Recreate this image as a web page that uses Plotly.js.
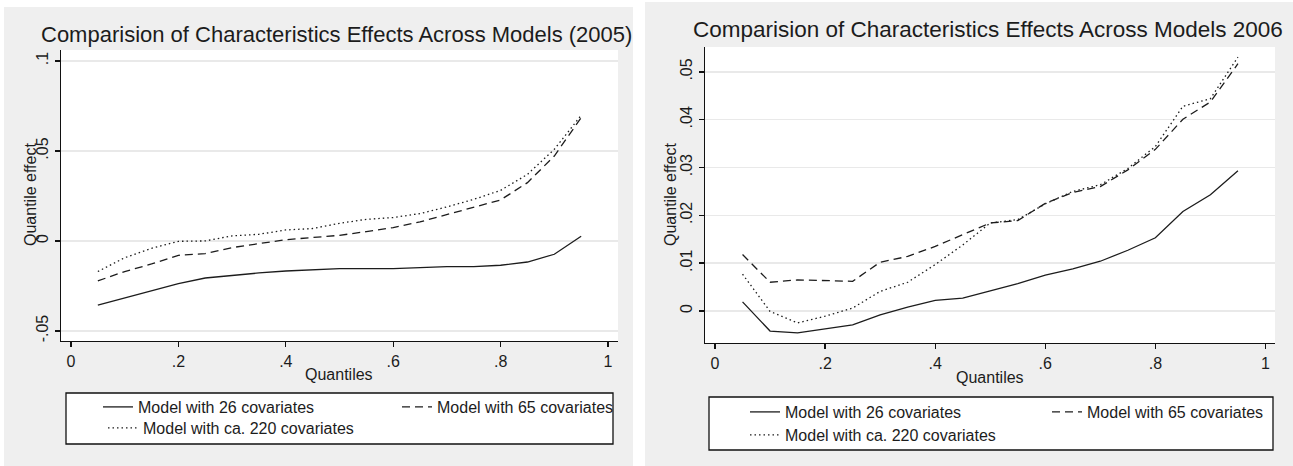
<!DOCTYPE html>
<html>
<head>
<meta charset="utf-8">
<script src="https://cdn.plot.ly/plotly-3.0.1.min.js"></script>
<style>
  html, body { margin: 0; padding: 0; background: #ffffff; }
  #chart { width: 1293px; height: 466px; }
</style>
</head>
<body>
<div id="chart"></div>
<script>
// Quantile grid shared by both years
const quantiles = [0.05, 0.10, 0.15, 0.20, 0.25, 0.30, 0.35, 0.40, 0.45, 0.50,
                   0.55, 0.60, 0.65, 0.70, 0.75, 0.80, 0.85, 0.90, 0.95];

// 2005 quantile effects
const effects2005_cov26 = [-0.0356, -0.0317, -0.0278, -0.0237, -0.0206, -0.0190, -0.0178, -0.0167, -0.0159, -0.0154,
                           -0.0154, -0.0154, -0.0148, -0.0143, -0.0143, -0.0135, -0.0117, -0.0074, 0.0026];
const effects2005_cov65 = [-0.0222, -0.0170, -0.0128, -0.0080, -0.0070, -0.0037, -0.0015, 0.0007, 0.0019, 0.0031,
                           0.0052, 0.0074, 0.0106, 0.0148, 0.0189, 0.0228, 0.0324, 0.0472, 0.0685];
const effects2005_cov220 = [-0.0170, -0.0093, -0.0041, -0.0002, 0.0000, 0.0028, 0.0037, 0.0061, 0.0069, 0.0098,
                            0.0120, 0.0130, 0.0152, 0.0189, 0.0231, 0.0281, 0.0370, 0.0509, 0.0698];

// 2006 quantile effects
const effects2006_cov26 = [0.0019, -0.0042, -0.0046, -0.0038, -0.0029, -0.0008, 0.0008, 0.0022, 0.0027, 0.0042,
                           0.0057, 0.0075, 0.0088, 0.0104, 0.0127, 0.0153, 0.0208, 0.0243, 0.0293];
const effects2006_cov65 = [0.0118, 0.0060, 0.0065, 0.0063, 0.0062, 0.0102, 0.0114, 0.0135, 0.0159, 0.0184,
                           0.0189, 0.0225, 0.0248, 0.0260, 0.0295, 0.0338, 0.0401, 0.0437, 0.0517];
const effects2006_cov220 = [0.0077, -0.0001, -0.0025, -0.0011, 0.0006, 0.0041, 0.0060, 0.0097, 0.0138, 0.0184,
                            0.0191, 0.0224, 0.0250, 0.0264, 0.0298, 0.0344, 0.0428, 0.0444, 0.0531];

const seriesNames = ['Model with 26 covariates', 'Model with 65 covariates', 'Model with ca. 220 covariates'];

const xTickVals = [0, 0.2, 0.4, 0.6, 0.8, 1];
const xTickText = ['0', '.2', '.4', '.6', '.8', '1'];
const yTickVals2005 = [-0.05, 0, 0.05, 0.1];
const yTickText2005 = ['-.05', '0', '.05', '.1'];
const yTickVals2006 = [0, 0.01, 0.02, 0.03, 0.04, 0.05];
const yTickText2006 = ['0', '.01', '.02', '.03', '.04', '.05'];

const titles = ['Comparision of Characteristics Effects Across Models (2005)',
                'Comparision of Characteristics Effects Across Models 2006'];

// ---- layout helpers (pixel -> paper) ----
const W = 1293, H = 466;
const px = v => v / W;
const py = v => (H - v) / H;

const FONT = 'Liberation Sans, Arial, Helvetica, sans-serif';
const INK = '#1c1c1c';
const lineStyles = [
  { color: INK, width: 1.3, dash: 'solid' },
  { color: INK, width: 1.3, dash: '8px,5px' },
  { color: INK, width: 1.3, dash: '1.5px,3px' }
];

const panels = [
  { xa: 'x', ya: 'y', data: [effects2005_cov26, effects2005_cov65, effects2005_cov220], legends: ['legend', 'legend2', 'legend3'] },
  { xa: 'x2', ya: 'y2', data: [effects2006_cov26, effects2006_cov65, effects2006_cov220], legends: ['legend4', 'legend5', 'legend6'] }
];

const traces = [];
panels.forEach(p => {
  p.data.forEach((vals, i) => {
    traces.push({
      type: 'scatter', mode: 'lines',
      x: quantiles, y: vals,
      xaxis: p.xa, yaxis: p.ya,
      name: seriesNames[i],
      legend: p.legends[i],
      showlegend: true,
      line: lineStyles[i],
      hoverinfo: 'skip'
    });
  });
});

const axisCommon = {
  showline: true, linecolor: '#111', linewidth: 1.4,
  ticks: 'outside', ticklen: 5, tickwidth: 1.3, tickcolor: '#111',
  tickfont: { family: FONT, size: 16, color: INK },
  zeroline: false, fixedrange: true
};

function legendAt(textLeft, centerY) {
  return {
    x: px(textLeft - 40), y: py(centerY), xref: 'paper', yref: 'paper',
    xanchor: 'left', yanchor: 'middle',
    bgcolor: 'rgba(0,0,0,0)', borderwidth: 0,
    font: { family: FONT, size: 16, color: INK },
    itemclick: false, itemdoubleclick: false, visible: true
  };
}

const layout = {
  width: W, height: H,
  margin: { l: 0, r: 0, t: 0, b: 0, pad: 0 },
  paper_bgcolor: '#efefef',
  plot_bgcolor: '#ffffff',
  showlegend: true,
  font: { family: FONT, size: 16, color: INK },
  xaxis: Object.assign({}, axisCommon, {
    domain: [px(61), px(618)], anchor: 'y',
    range: [-0.0186, 1.0186], tickvals: xTickVals, ticktext: xTickText, showgrid: false
  }),
  yaxis: Object.assign({}, axisCommon, {
    domain: [py(341), py(50)], anchor: 'x',
    range: [-0.0556, 0.1061], tickvals: yTickVals2005, ticktext: yTickText2005,
    tickangle: -90, showgrid: true, gridcolor: '#e9e9e9', gridwidth: 1.5
  }),
  xaxis2: Object.assign({}, axisCommon, {
    domain: [px(705), px(1275)], anchor: 'y2',
    range: [-0.0182, 1.0173], tickvals: xTickVals, ticktext: xTickText, showgrid: false
  }),
  yaxis2: Object.assign({}, axisCommon, {
    domain: [py(343), py(47)], anchor: 'x2',
    range: [-0.0067, 0.0552], tickvals: yTickVals2006, ticktext: yTickText2006,
    tickangle: -90, showgrid: true, gridcolor: '#e9e9e9', gridwidth: 1.5
  }),
  legend: legendAt(138, 407),
  legend2: legendAt(437, 407),
  legend3: legendAt(143, 428),
  legend4: legendAt(785, 412),
  legend5: legendAt(1087, 412),
  legend6: legendAt(785, 435),
  shapes: [
    // white page strips around the two grey graph regions
    { type: 'rect', xref: 'paper', yref: 'paper', x0: 0, x1: px(4), y0: 0, y1: 1, fillcolor: '#ffffff', line: { width: 0 }, layer: 'below' },
    { type: 'rect', xref: 'paper', yref: 'paper', x0: 0, x1: px(645), y0: py(7), y1: 1, fillcolor: '#ffffff', line: { width: 0 }, layer: 'below' },
    { type: 'rect', xref: 'paper', yref: 'paper', x0: px(633), x1: px(645), y0: 0, y1: 1, fillcolor: '#ffffff', line: { width: 0 }, layer: 'below' },
    { type: 'rect', xref: 'paper', yref: 'paper', x0: px(645), x1: 1, y0: py(2), y1: 1, fillcolor: '#ffffff', line: { width: 0 }, layer: 'below' },
    // legend frames
    { type: 'rect', xref: 'paper', yref: 'paper', x0: px(66), x1: px(613), y0: py(444), y1: py(393), fillcolor: '#ffffff', line: { color: '#111', width: 1.3 }, layer: 'below' },
    { type: 'rect', xref: 'paper', yref: 'paper', x0: px(709), x1: px(1273), y0: py(450), y1: py(397), fillcolor: '#ffffff', line: { color: '#111', width: 1.3 }, layer: 'below' }
  ],
  annotations: [
    { text: titles[0], x: px(336.5), y: py(34), xref: 'paper', yref: 'paper', xanchor: 'center', yanchor: 'middle', showarrow: false, font: { family: FONT, size: 22, color: INK } },
    { text: titles[1], x: px(987.5), y: py(29.5), xref: 'paper', yref: 'paper', xanchor: 'center', yanchor: 'middle', showarrow: false, font: { family: FONT, size: 22.5, color: INK } },
    { text: 'Quantile effect', x: px(30), y: py(195), xref: 'paper', yref: 'paper', xanchor: 'center', yanchor: 'middle', textangle: -90, showarrow: false, font: { family: FONT, size: 16, color: INK } },
    { text: 'Quantile effect', x: px(670), y: py(195), xref: 'paper', yref: 'paper', xanchor: 'center', yanchor: 'middle', textangle: -90, showarrow: false, font: { family: FONT, size: 16, color: INK } },
    { text: 'Quantiles', x: px(339.5), y: py(374), xref: 'paper', yref: 'paper', xanchor: 'center', yanchor: 'middle', showarrow: false, font: { family: FONT, size: 16, color: INK } },
    { text: 'Quantiles', x: px(990), y: py(377), xref: 'paper', yref: 'paper', xanchor: 'center', yanchor: 'middle', showarrow: false, font: { family: FONT, size: 16, color: INK } }
  ]
};

Plotly.newPlot('chart', traces, layout, { displayModeBar: false, staticPlot: true });
</script>
</body>
</html>
